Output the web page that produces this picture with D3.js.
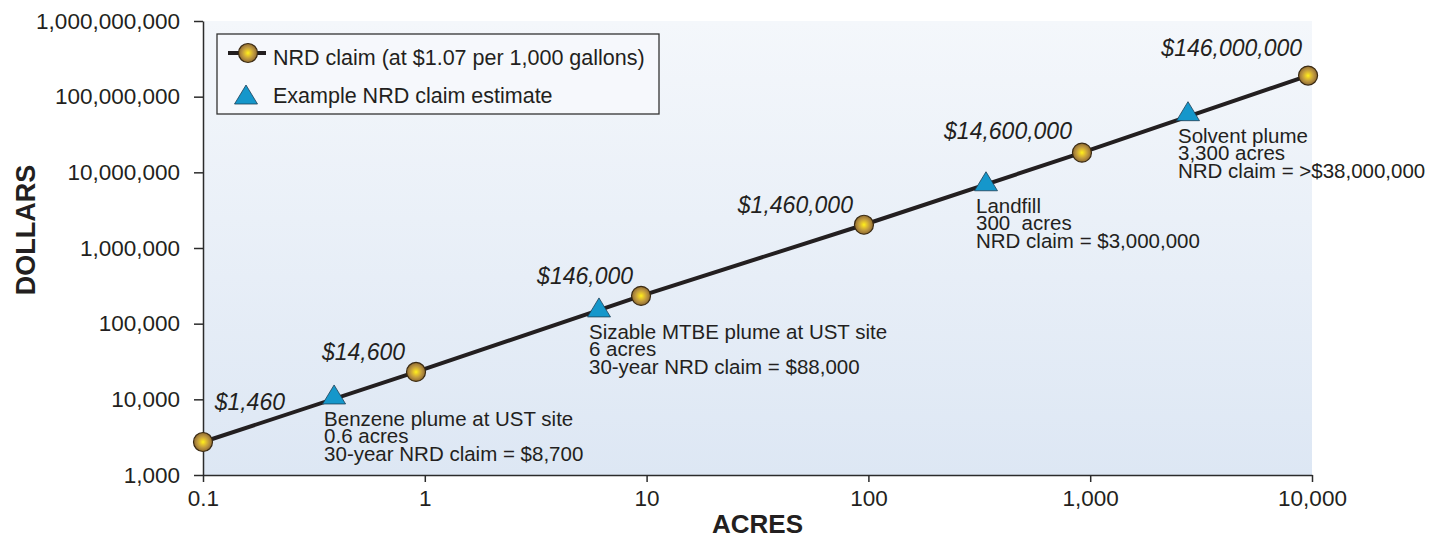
<!DOCTYPE html>
<html>
<head>
<meta charset="utf-8">
<script src="https://cdn.jsdelivr.net/npm/d3@7"></script>
<style>
  html, body { margin: 0; padding: 0; background: #ffffff; }
  svg { display: block; }
  text { font-family: "Liberation Sans", Arial, sans-serif; fill: #231f20; }
</style>
</head>
<body>
<script>
// ---------- data ----------
const acresTicks = [0.1, 1, 10, 100, 1000, 10000];
const acresTickLabels = ["0.1", "1", "10", "100", "1,000", "10,000"];
const dollarTicks = [1e3, 1e4, 1e5, 1e6, 1e7, 1e8, 1e9];
const dollarTickLabels = ["1,000", "10,000", "100,000", "1,000,000", "10,000,000", "100,000,000", "1,000,000,000"];

// NRD claim line (circles)
const claimAcres = [0.1, 0.913, 9.44, 95.5, 918, 9600];
const claimDollars = [2730, 23000, 233000, 2030000, 18200000, 190000000];
const claimLabels = ["$1,460", "$14,600", "$146,000", "$1,460,000", "$14,600,000", "$146,000,000"];

// Example NRD claim estimates (triangles)
const exampleAcres = [0.39, 6.1, 339, 2760];
const exampleDollars = [11600, 164000, 7620000, 64300000];
const exampleNotes = [
  ["Benzene plume at UST site", "0.6 acres", "30-year NRD claim = $8,700"],
  ["Sizable MTBE plume at UST site", "6 acres", "30-year NRD claim = $88,000"],
  ["Landfill", "300  acres", "NRD claim = $3,000,000"],
  ["Solvent plume", "3,300 acres", "NRD claim = >$38,000,000"]
];

const legendLabels = ["NRD claim (at $1.07 per 1,000 gallons)", "Example NRD claim estimate"];
const xTitle = "ACRES";
const yTitle = "DOLLARS";

// ---------- layout (not data) ----------
const W = 1450, H = 538;
const plot = { left: 203, right: 1312, top: 21, bottom: 475 };
// per-label offsets of value labels from their circle [dx, dy]
const claimLabelOffsets = [[82, -32], [-11, -12], [-8, -12], [-11, -12], [-10, -14], [-6, -20]];

const svg = d3.select("body").append("svg").attr("width", W).attr("height", H);
const defs = svg.append("defs");

const bg = defs.append("linearGradient").attr("id", "bg").attr("x1", 0).attr("y1", 0).attr("x2", 0).attr("y2", 1);
bg.append("stop").attr("offset", "0%").attr("stop-color", "#f4f7fb");
bg.append("stop").attr("offset", "100%").attr("stop-color", "#dde7f4");

const ball = defs.append("radialGradient").attr("id", "ball").attr("cx", "50%").attr("cy", "50%").attr("r", "50%");
ball.append("stop").attr("offset", "0%").attr("stop-color", "#fff21a");
ball.append("stop").attr("offset", "30%").attr("stop-color", "#e3c22e");
ball.append("stop").attr("offset", "65%").attr("stop-color", "#b99340");
ball.append("stop").attr("offset", "100%").attr("stop-color", "#8e6a2c");

const x = d3.scaleLog().domain([0.1, 10000]).range([plot.left, plot.right]);
const y = d3.scaleLog().domain([1e3, 1e9]).range([plot.bottom, plot.top]);

// background
svg.append("rect")
  .attr("x", plot.left).attr("y", plot.top)
  .attr("width", plot.right - plot.left).attr("height", plot.bottom - plot.top)
  .attr("fill", "url(#bg)");

// axes
const yAxis = d3.axisLeft(y).tickValues(dollarTicks)
  .tickFormat((d, i) => dollarTickLabels[i]).tickSize(9).tickSizeOuter(0).tickPadding(14);
const xAxis = d3.axisBottom(x).tickValues(acresTicks)
  .tickFormat((d, i) => acresTickLabels[i]).tickSize(7).tickSizeOuter(0).tickPadding(8);

const gy = svg.append("g").attr("transform", `translate(${plot.left},0)`).call(yAxis);
const gx = svg.append("g").attr("transform", `translate(0,${plot.bottom})`).call(xAxis);
[gx, gy].forEach(g => {
  g.selectAll("path, line").attr("stroke", "#2b2b2b").attr("stroke-width", 1.5);
  g.selectAll("text").attr("font-family", "Liberation Sans, Arial, sans-serif")
    .attr("font-size", 22.5).attr("fill", "#231f20");
});

// axis titles
svg.append("text")
  .attr("transform", `translate(35,230) rotate(-90)`)
  .attr("text-anchor", "middle").attr("font-size", 27).attr("font-weight", 800)
  .text(yTitle);
svg.append("text")
  .attr("x", (plot.left + plot.right) / 2).attr("y", 533)
  .attr("text-anchor", "middle").attr("font-size", 26).attr("font-weight", 800)
  .text(xTitle);

// line
const line = d3.line().x((d, i) => x(claimAcres[i])).y((d, i) => y(claimDollars[i]));
svg.append("path").datum(claimAcres)
  .attr("d", line).attr("fill", "none")
  .attr("stroke", "#231f20").attr("stroke-width", 4);

// triangles
const triPath = "M0,-9.5L11.5,9.5L-11.5,9.5Z";
svg.append("g").selectAll("path").data(exampleAcres).join("path")
  .attr("d", triPath)
  .attr("transform", (d, i) => `translate(${x(d)},${y(exampleDollars[i])})`)
  .attr("fill", "#1597cb").attr("stroke", "#1d3f55").attr("stroke-width", 0.8);

// circles
svg.append("g").selectAll("circle").data(claimAcres).join("circle")
  .attr("cx", d => x(d)).attr("cy", (d, i) => y(claimDollars[i]))
  .attr("r", 9.5).attr("fill", "url(#ball)")
  .attr("stroke", "#3a2a14").attr("stroke-width", 1.2);

// value labels
svg.append("g").selectAll("text").data(claimLabels).join("text")
  .attr("x", (d, i) => x(claimAcres[i]) + claimLabelOffsets[i][0])
  .attr("y", (d, i) => y(claimDollars[i]) + claimLabelOffsets[i][1])
  .attr("text-anchor", "end").attr("font-style", "italic").attr("font-size", 23)
  .text(d => d);

// annotations
const notes = svg.append("g").selectAll("text").data(exampleNotes).join("text")
  .attr("font-size", 20.5).style("white-space", "pre")
  .attr("x", (d, i) => x(exampleAcres[i]) - 10)
  .attr("y", (d, i) => y(exampleDollars[i]) + 31.5);
notes.selectAll("tspan").data(d => d).join("tspan")
  .attr("x", function () { return this.parentNode.getAttribute("x"); })
  .attr("dy", (d, j) => j === 0 ? 0 : 17.5)
  .text(d => d);

// legend
const lg = svg.append("g");
lg.append("rect").attr("x", 217).attr("y", 34).attr("width", 442).attr("height", 80)
  .attr("fill", "#f6f8fc").attr("stroke", "#333").attr("stroke-width", 1.3);
lg.append("line").attr("x1", 228).attr("x2", 266).attr("y1", 53).attr("y2", 53)
  .attr("stroke", "#231f20").attr("stroke-width", 4);
lg.append("circle").attr("cx", 248).attr("cy", 53).attr("r", 9.5)
  .attr("fill", "url(#ball)").attr("stroke", "#3a2a14").attr("stroke-width", 1.2);
lg.append("path").attr("d", triPath).attr("transform", "translate(246,94.5)")
  .attr("fill", "#1597cb").attr("stroke", "#1d3f55").attr("stroke-width", 0.8);
lg.selectAll("text.lt").data(legendLabels).join("text").attr("class", "lt")
  .attr("x", 273).attr("y", (d, i) => i === 0 ? 65 : 103)
  .attr("font-size", 21.5).text(d => d);
</script>
</body>
</html>
